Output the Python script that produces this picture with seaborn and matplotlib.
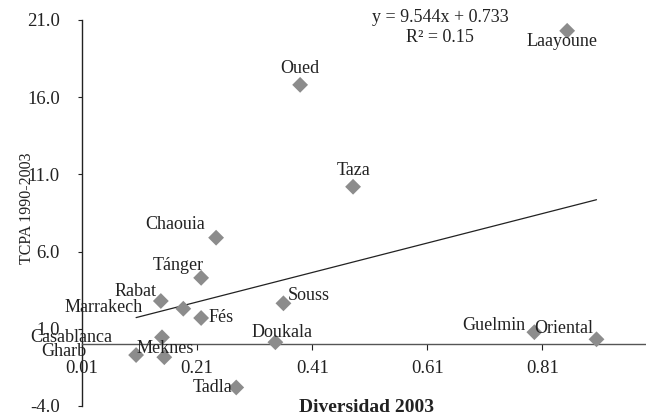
import numpy as np
import pandas as pd
import matplotlib
matplotlib.use("Agg")
import matplotlib.pyplot as plt
import seaborn as sns

# Data
regions = ['Laayoune', 'Oued', 'Taza', 'Chaouia', 'Tánger', 'Rabat', 'Marrakech',
           'Fés', 'Souss', 'Doukala', 'Casablanca', 'Gharb', 'Meknes', 'Tadla',
           'Guelmin', 'Oriental']
diversidad = [0.853, 0.389, 0.481, 0.243, 0.217, 0.147, 0.186,
              0.217, 0.360, 0.346, 0.149, 0.104, 0.153, 0.278,
              0.796, 0.904]
tcpa = [20.3, 16.8, 10.2, 6.9, 4.3, 2.8, 2.3,
        1.7, 2.65, 0.13, 0.45, -0.7, -0.84, -2.8,
        0.78, 0.32]
slope = 9.544
intercept = 0.733
r2 = 0.15
x_ticks = [0.01, 0.21, 0.41, 0.61, 0.81]
y_ticks = [-4.0, 1.0, 6.0, 11.0, 16.0, 21.0]

# label placement: (dx px, dy px, ha)
label_pos = {
    'Laayoune': (-5, -11, 'center'), 'Oued': (0, 16, 'center'), 'Taza': (0, 16, 'center'),
    'Chaouia': (-11, 13, 'right'), 'Tánger': (3, 12, 'right'), 'Rabat': (-4, 10, 'right'),
    'Marrakech': (-41, 1, 'right'), 'Fés': (7, 0, 'left'), 'Souss': (4, 8, 'left'),
    'Doukala': (7, 10, 'center'), 'Casablanca': (-50, 0, 'right'), 'Gharb': (-50, 4, 'right'),
    'Meknes': (1, 9, 'center'), 'Tadla': (-4, 0, 'right'), 'Guelmin': (-9, 7, 'right'),
    'Oriental': (-3, 11, 'right'),
}

df = pd.DataFrame({'region': regions, 'x': diversidad, 'y': tcpa})

sns.set_style('white')
plt.rcParams['font.family'] = ['Liberation Serif', 'DejaVu Serif']
txt = '#222222'

fig = plt.figure(figsize=(6.46, 4.17), dpi=100)
ax = fig.add_axes([82 / 646, 11 / 417, 564 / 646, 386 / 417])

sns.scatterplot(data=df, x='x', y='y', marker='D', s=65, color='#8c8c8c',
                edgecolor='none', ax=ax, zorder=3)

# trend line
xl = np.array([df['x'].min(), df['x'].max()])
ax.plot(xl, slope * xl + intercept, color='#222222', lw=0.9, zorder=2)

for name, xv, yv in zip(regions, diversidad, tcpa):
    dx, dy, ha = label_pos[name]
    ax.annotate(name, (xv, yv), xytext=(dx, dy), textcoords='offset pixels',
                ha=ha, va='center', fontsize=13, color=txt, zorder=4)

ax.set_xlim(0.01, 0.99)
ax.set_ylim(-4.0, 21.0)
ax.set_xticks(x_ticks)
ax.set_xticklabels([f'{v:.2f}' for v in x_ticks])
ax.set_yticks(y_ticks)
ax.set_yticklabels([f'{v:.1f}' for v in y_ticks])

for s in ['top', 'right']:
    ax.spines[s].set_visible(False)
ax.spines['bottom'].set_position(('data', 0))
ax.spines['bottom'].set_color('#555555')
ax.spines['left'].set_color('#222222')
ax.spines['bottom'].set_linewidth(1.0)
ax.spines['left'].set_linewidth(1.0)

ax.tick_params(axis='x', direction='out', length=4, width=0.8, pad=7,
               labelsize=13.5, colors=txt, bottom=True)
ax.tick_params(axis='y', direction='out', length=3, width=0.8, pad=13,
               labelsize=13.5, colors=txt, left=True)

ax.set_xlabel('Diversidad 2003', fontsize=14, fontweight='bold', color=txt)
ax.xaxis.set_label_coords(0.505, 0.018)
ax.set_ylabel('TCPA 1990-2003', fontsize=11.5, color=txt)
ax.yaxis.set_label_coords(-0.083, 0.513)

fig.text(440 / 646, 1 - 18 / 417, f'y = {slope:.3f}x + {intercept:.3f}',
         ha='center', va='center', fontsize=13, color=txt)
fig.text(440 / 646, 1 - 38 / 417, f'R² = {r2:.2f}',
         ha='center', va='center', fontsize=13, color=txt)

fig.savefig('out.png', dpi=100)
